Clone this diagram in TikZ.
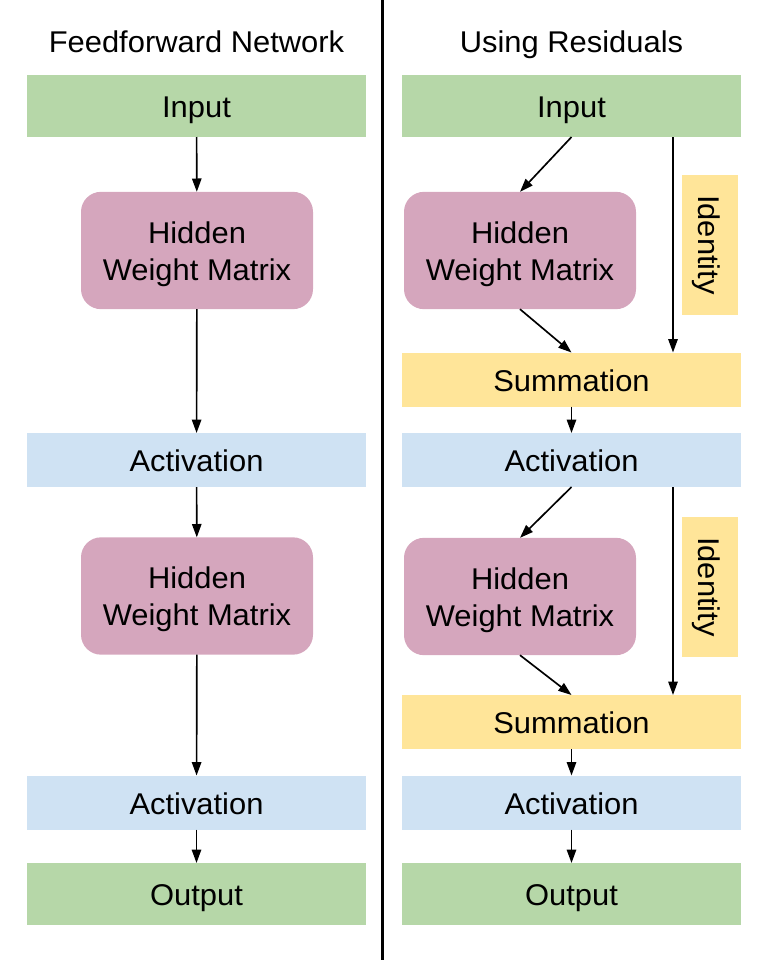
\documentclass[tikz,border=0pt]{standalone}
\usepackage{fontspec}
\setmainfont{Liberation Sans}[FakeStretch=1.03]
\usetikzlibrary{arrows.meta}
\definecolor{cgreen}{HTML}{B6D7A8}
\definecolor{cpink}{HTML}{D5A6BD}
\definecolor{cblue}{HTML}{CFE2F3}
\definecolor{cyellow}{HTML}{FFE599}
\begin{document}
\begin{tikzpicture}[x=0.75pt,y=-0.75pt,
  every node/.style={font=\fontsize{22.5pt}{27.75pt}\selectfont, inner sep=0pt, outer sep=0pt},
  oneline/.style={text height=17.25pt, text depth=0pt},
  wide/.style={rectangle, oneline, minimum width=254.25pt, minimum height=40.5pt},
  inbox/.style={wide, fill=cgreen, minimum height=46.5pt},
  actbox/.style={wide, fill=cblue},
  sumbox/.style={wide, fill=cyellow},
  hidbox/.style={rectangle, rounded corners=15pt, fill=cpink, minimum width=174pt, minimum height=88pt, align=center, text height=44.25pt, text depth=0pt},
  idbox/.style={rectangle, oneline, fill=cyellow, rotate=-90, minimum width=105pt, minimum height=42pt},
  titletext/.style={anchor=base},
  arr/.style={-{Triangle[length=10pt,width=7pt]}, line width=1.25pt, black},
  divider/.style={line width=2.25pt, black}
]
\useasboundingbox (0,0) rectangle (768,960);
% divider
\coordinate (dtop) at (382,0);
\coordinate (dbot) at (382,960);
\draw[divider] (dtop) -- (dbot);
% titles
\node[titletext] (t1) at (196.5,52) {Feedforward Network};
\node[titletext] (t2) at (571.5,52) {Using Residuals};
% left column
\node[inbox] (inL) at (196.5,106) {Input};
\node[hidbox] (h1L) at (197,250.5) {Hidden\\Weight Matrix};
\node[actbox] (a1L) at (196.5,460) {Activation};
\node[hidbox] (h2L) at (197,596) {Hidden\\Weight Matrix};
\node[actbox] (a2L) at (196.5,802.5) {Activation};
\node[inbox] (outL) at (196.5,894) {Output};
\draw[arr] (inL) -- (h1L);
\draw[arr] (h1L) -- (a1L);
\draw[arr] (a1L) -- (h2L);
\draw[arr] (h2L) -- (a2L);
\draw[arr] (a2L) -- (outL);
% right column
\node[inbox] (inR) at (571.5,106) {Input};
\node[hidbox] (h1R) at (520,250.5) {Hidden\\Weight Matrix};
\node[idbox] (id1) at (710,245) {Identity};
\node[sumbox] (s1R) at (571.5,379.5) {Summation};
\node[actbox] (a1R) at (571.5,460) {Activation};
\node[hidbox] (h2R) at (520,596.5) {Hidden\\Weight Matrix};
\node[idbox] (id2) at (710,587) {Identity};
\node[sumbox] (s2R) at (571.5,722) {Summation};
\node[actbox] (a2R) at (571.5,802.5) {Activation};
\node[inbox] (outR) at (571.5,894) {Output};
\coordinate (xid) at (673,0);
\draw[arr] (inR.south) -- (h1R.north);
\draw[arr] (h1R.south) -- (s1R.north);
\draw[arr] (inR.south -| xid) -- (s1R.north -| xid);
\draw[arr] (s1R) -- (a1R);
\draw[arr] (a1R.south) -- (h2R.north);
\draw[arr] (h2R.south) -- (s2R.north);
\draw[arr] (a1R.south -| xid) -- (s2R.north -| xid);
\draw[arr] (s2R) -- (a2R);
\draw[arr] (a2R) -- (outR);
\end{tikzpicture}
\end{document}
